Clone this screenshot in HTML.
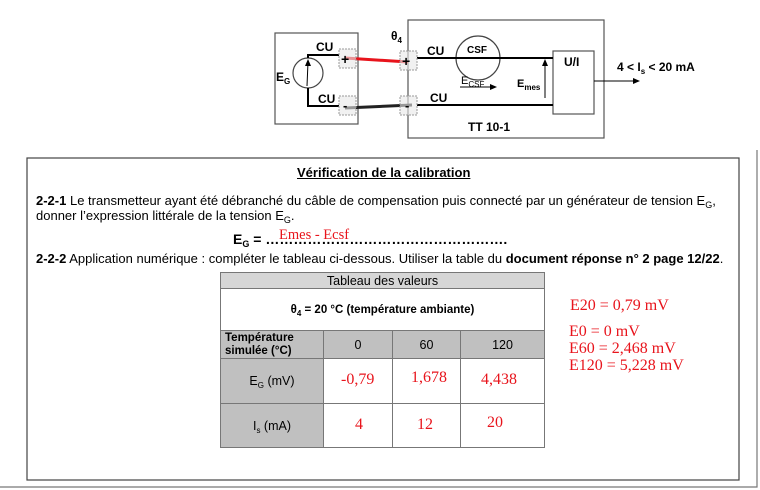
<!DOCTYPE html>
<html><head><meta charset="utf-8"><style>
body{margin:0;width:760px;height:490px;background:#fff;position:relative;overflow:hidden;font-family:"Liberation Sans",Arial,sans-serif;color:#000}
sub{vertical-align:baseline;position:relative;top:3px;line-height:0}
.t{position:absolute;white-space:nowrap;font-size:12px;line-height:14px}
.p{font-size:13px;line-height:15px}
.r{position:absolute;white-space:nowrap;font-family:"Liberation Serif",serif;color:#e8141c;font-size:16px;line-height:18px}
table{position:absolute;left:220px;top:272px;border-collapse:collapse;font-size:12.5px;table-layout:fixed;width:324px}
td{border:1px solid #777;text-align:center;padding:0;box-sizing:border-box}
.g{background:#c0c0c0}
</style></head><body>
<svg width="760" height="490" style="position:absolute;left:0;top:0">
<g fill="none" stroke="#555" stroke-width="1.2">
<rect x="275" y="33" width="83" height="91"/>
<rect x="408" y="20" width="196" height="118"/>
<rect x="553" y="51" width="41" height="63"/>
<rect x="27" y="158" width="712" height="322" stroke="#444"/>
<polyline points="757,150 757,487 0,487" stroke="#777"/>
</g>
<circle cx="478" cy="58" r="22" fill="none" stroke="#444" stroke-width="1.2"/>
<circle cx="308" cy="73" r="15" fill="none" stroke="#444" stroke-width="1.2"/>
<g stroke="#000" stroke-width="2" fill="none">
<polyline points="308,58 308,55 339,55"/>
<polyline points="308,88 308,106 339,106"/>
<line x1="417" y1="58" x2="553" y2="58"/>
<line x1="417" y1="105" x2="553" y2="105"/>
</g>
<line x1="345" y1="58" x2="408" y2="62" stroke="#e8141c" stroke-width="3"/>
<line x1="345" y1="108" x2="412" y2="105" stroke="#222" stroke-width="3"/>
<g fill="#e8e8e8" stroke="#999" stroke-dasharray="2,1">
<rect x="339" y="49" width="17" height="19" fill-opacity=".6"/>
<rect x="339" y="96" width="17" height="19" fill-opacity=".6"/>
<rect x="400" y="51" width="17" height="19" fill-opacity=".6"/>
<rect x="400" y="96" width="17" height="19" fill-opacity=".6"/>
</g>
<g stroke="#000" stroke-width="1">
<line x1="307" y1="86" x2="308" y2="62"/>
<line x1="545" y1="98" x2="545" y2="63"/>
<line x1="460" y1="87" x2="494" y2="87"/>
<line x1="594" y1="81" x2="634" y2="81"/>
</g>
<polygon points="308,59 305,66 311,66"/>
<polygon points="545,59 542,66 548,66"/>
<polygon points="497,87 490,84 490,90"/>
<polygon points="640,81 633,78 633,84"/>
<g font-family="Liberation Sans,Arial,sans-serif" font-weight="bold">
<text x="341" y="64" font-size="14">+</text>
<text x="402" y="66" font-size="14">+</text>
<text x="343" y="110" font-size="13">-</text>
<text x="405" y="110" font-size="13">-</text>
</g>
</svg>
<div class="t" style="left:316px;top:40px;font-weight:bold">CU</div>
<div class="t" style="left:318px;top:92px;font-weight:bold">CU</div>
<div class="t" style="left:276px;top:70px;font-weight:bold">E<sub style="font-size:8px">G</sub></div>
<div class="t" style="left:391px;top:29px;font-weight:bold">θ<sub style="font-size:8px">4</sub></div>
<div class="t" style="left:427px;top:44px;font-weight:bold">CU</div>
<div class="t" style="left:430px;top:91px;font-weight:bold">CU</div>
<div class="t" style="left:467px;top:44px;font-weight:bold;font-size:10px">CSF</div>
<div class="t" style="left:461px;top:74px;font-size:11px">E<sub style="font-size:8px">CSF</sub></div>
<div class="t" style="left:517px;top:77px;font-weight:bold;font-size:11px">E<sub style="font-size:8px">mes</sub></div>
<div class="t" style="left:564px;top:55px;font-weight:bold">U/I</div>
<div class="t" style="left:617px;top:60px;font-weight:bold">4 &lt; I<sub style="font-size:8px">s</sub> &lt; 20 mA</div>
<div class="t" style="left:468px;top:120px;font-weight:bold">TT 10-1</div>

<div class="t p" style="left:297px;top:165px;font-weight:bold;text-decoration:underline">Vérification de la calibration</div>
<div class="t p" style="left:36px;top:193px"><b>2-2-1</b> Le transmetteur ayant été débranché du câble de compensation puis connecté par un générateur de tension E<sub style="font-size:9px">G</sub>,</div>
<div class="t p" style="left:36px;top:208px">donner l’expression littérale de la tension E<sub style="font-size:9px">G</sub>.</div>
<div class="t" style="left:233px;top:231px;font-weight:bold;font-size:14px;line-height:16px">E<sub style="font-size:9px">G</sub> = …………………………………………….</div>
<div class="r" style="left:279px;top:226px;font-size:14.5px">Emes - Ecsf</div>
<div class="t p" style="left:36px;top:251px"><b>2-2-2</b> Application numérique : compléter le tableau ci-dessous. Utiliser la table du <b>document réponse n° 2 page 12/22</b>.</div>

<table>
<colgroup><col style="width:103px"><col style="width:69px"><col style="width:68px"><col style="width:84px"></colgroup>
<tr style="height:16px"><td colspan="4" style="background:#d6d6d6">Tableau des valeurs</td></tr>
<tr style="height:42px"><td colspan="4" style="font-weight:bold;font-size:11.5px">θ<sub style="font-size:8px">4</sub> = 20 °C (température ambiante)</td></tr>
<tr style="height:28px" class="g"><td style="text-align:left;font-weight:bold;font-size:11.5px;line-height:13px;padding-left:4px">Température<br>simulée (°C)</td><td>0</td><td>60</td><td>120</td></tr>
<tr style="height:45px"><td class="g">E<sub style="font-size:8px">G</sub> (mV)</td><td></td><td></td><td></td></tr>
<tr style="height:44px"><td class="g">I<sub style="font-size:8px">s</sub> (mA)</td><td></td><td></td><td></td></tr>
</table>
<div class="r" style="left:341px;top:371px">-0,79</div>
<div class="r" style="left:411px;top:369px">1,678</div>
<div class="r" style="left:481px;top:371px">4,438</div>
<div class="r" style="left:355px;top:416px">4</div>
<div class="r" style="left:417px;top:416px">12</div>
<div class="r" style="left:487px;top:414px">20</div>

<div class="r" style="left:570px;top:297px">E20 = 0,79 mV</div>
<div class="r" style="left:569px;top:323px">E0 = 0 mV</div>
<div class="r" style="left:569px;top:340px">E60 = 2,468 mV</div>
<div class="r" style="left:569px;top:357px">E120 = 5,228 mV</div>
</body></html>
